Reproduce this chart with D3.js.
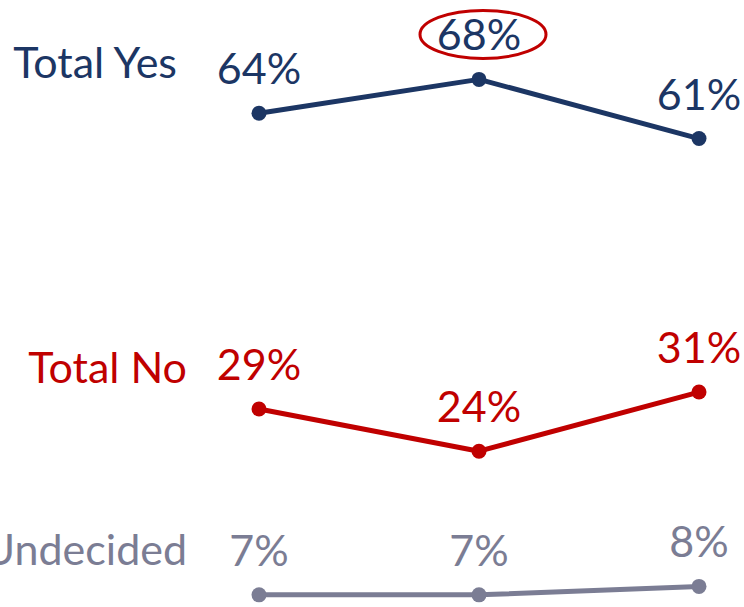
<!DOCTYPE html>
<html><head><meta charset="utf-8">
<script src="https://cdn.jsdelivr.net/npm/d3@7"></script>
<style>
html,body{margin:0;padding:0;background:#fff;}
svg{display:block;}
text{font-family:"Lato","Open Sans",sans-serif;}
</style></head>
<body>
<svg id="chart" width="744" height="607"></svg>
<script>
const periods = ["P1", "P2", "P3"];
const seriesNames = ["Total Yes", "Total No", "Undecided"];
const totalYes = [64, 68, 61];
const totalNo = [29, 24, 31];
const undecided = [7, 7, 8];
const highlighted = { series: "Total Yes", period: "P2" };

const colors = { "Total Yes": "#1c3664", "Total No": "#c00000", "Undecided": "#7b7d94" };
const seriesValues = { "Total Yes": totalYes, "Total No": totalNo, "Undecided": undecided };
// series label layout (right edge, baseline offset above first point)
const labelLayout = { "Total Yes": { x: 177, dy: -35 }, "Total No": { x: 187, dy: -26 }, "Undecided": { x: 187, dy: -30 } };

const svg = d3.select("#chart");
const x = d3.scalePoint().domain(periods).range([259, 699]);
const y = d3.scaleLinear().domain([0, 70]).range([654, 654 - 70 * 8.45]);
const fs = 43;

const line = d3.line().x(d => x(d.p)).y(d => y(d.v));

seriesNames.forEach(name => {
  const data = periods.map((p, i) => ({ p, v: seriesValues[name][i] }));
  const g = svg.append("g");
  g.append("path").datum(data).attr("d", line)
    .attr("fill", "none").attr("stroke", colors[name]).attr("stroke-width", 5).attr("stroke-linejoin", "round");
  g.selectAll("circle").data(data).join("circle")
    .attr("cx", d => x(d.p)).attr("cy", d => y(d.v)).attr("r", 7.5).attr("fill", colors[name]);
  g.selectAll("text.val").data(data).join("text").attr("class", "val")
    .attr("x", d => x(d.p)).attr("y", d => y(d.v) - 29)
    .attr("text-anchor", "middle").attr("fill", colors[name]).attr("font-size", fs)
    .text(d => d.v + "%");
  const lay = labelLayout[name];
  g.append("text").attr("x", lay.x).attr("y", y(data[0].v) + lay.dy)
    .attr("text-anchor", "end").attr("fill", colors[name]).attr("font-size", fs)
    .text(name);
  if (name === highlighted.series) {
    const d = data.find(e => e.p === highlighted.period);
    g.append("ellipse").attr("cx", x(d.p) + 4).attr("cy", y(d.v) - 45)
      .attr("rx", 63).attr("ry", 24).attr("fill", "none")
      .attr("stroke", "#c00000").attr("stroke-width", 3);
  }
});
</script>
</body></html>
